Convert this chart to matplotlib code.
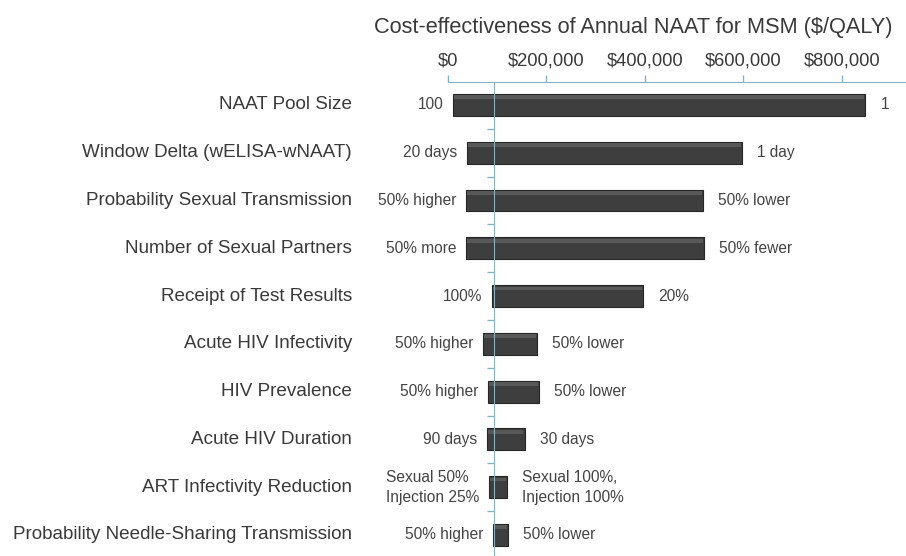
import matplotlib
matplotlib.use("Agg")
import matplotlib.pyplot as plt
import numpy as np

plt.rcParams["font.family"] = ["Liberation Sans", "DejaVu Sans"]

# tornado data ($/QALY), top row first
params = [
    "NAAT Pool Size",
    "Window Delta (wELISA-wNAAT)",
    "Probability Sexual Transmission",
    "Number of Sexual Partners",
    "Receipt of Test Results",
    "Acute HIV Infectivity",
    "HIV Prevalence",
    "Acute HIV Duration",
    "ART Infectivity Reduction",
    "Probability Needle-Sharing Transmission",
]
low_vals = [10000, 38500, 36500, 36500, 89000, 71000, 81000, 79000, 83000, 91000]
high_vals = [847000, 597000, 518000, 520000, 396000, 181000, 185000, 156000, 120000, 122000]
low_labels = ["100", "20 days", "50% higher", "50% more", "100%", "50% higher",
              "50% higher", "90 days", "Sexual 50%\nInjection 25%", "50% higher"]
high_labels = ["1", "1 day", "50% lower", "50% fewer", "20%", "50% lower",
               "50% lower", "30 days", "Sexual 100%,\nInjection 100%", "50% lower"]
base_case = 93500
xticks = [0, 200000, 400000, 600000, 800000]

axis_col = "#86b3c4"
bar_col = "#3e3e3e"
txt_col = "#3a3a3a"

fig = plt.figure(figsize=(9.06, 5.56), dpi=100)
ax = fig.add_axes([448 / 906, 0.0, 1 - 448 / 906, 1 - 82 / 556])

y = np.arange(len(params))
lo = np.array(low_vals)
hi = np.array(high_vals)
h = 0.46

# two halves of each bar, split at the base case
ax.barh(y, base_case - lo, left=lo, height=h, color=bar_col,
        edgecolor="#262626", linewidth=0.8, zorder=2)
ax.barh(y, hi - base_case, left=base_case, height=h, color=bar_col,
        edgecolor="#262626", linewidth=0.8, zorder=2)
# soft bevel highlight along the top of each bar
ax.barh(y - h / 2 + 0.07, hi - lo - 6000, left=lo + 3000, height=0.08,
        color="#585858", linewidth=0, zorder=3)

for i in range(len(params)):
    ax.annotate(low_labels[i], (lo[i], y[i]), xytext=(-7, 0),
                textcoords="offset points", ha="right", va="center",
                multialignment="left", linespacing=1.4,
                fontsize=11.2, color="#444444")
    ax.annotate(high_labels[i], (hi[i], y[i]), xytext=(11, 0),
                textcoords="offset points", ha="left", va="center",
                multialignment="left", linespacing=1.4,
                fontsize=11.2, color="#444444")
    ax.text(-96 / 458, y[i], params[i], transform=ax.get_yaxis_transform(),
            ha="right", va="center", fontsize=13.6, color=txt_col)

ax.set_xlim(0, 930000)
ax.set_ylim(len(params) - 1 + 0.44, -0.48)

ax.xaxis.tick_top()
ax.set_xticks(xticks)
ax.set_xticklabels(["${:,}".format(v) for v in xticks])
ax.tick_params(axis="x", colors=axis_col, labelcolor=txt_col, labelsize=13.2,
               length=5, width=1, pad=4)

ax.set_yticks(np.arange(len(params) - 1) + 0.5)
ax.set_yticklabels([])
ax.tick_params(axis="y", colors=axis_col, length=5, width=1)

ax.spines["left"].set_position(("data", base_case))
ax.spines["left"].set_color(axis_col)
ax.spines["top"].set_color(axis_col)
ax.spines["bottom"].set_visible(False)
ax.spines["right"].set_visible(False)
ax.spines["left"].set_zorder(4)

fig.text(893 / 906, 1 - 27 / 556, "Cost-effectiveness of Annual NAAT for MSM ($/QALY)",
         ha="right", va="center", fontsize=15.7, color=txt_col)

fig.savefig("out.png", dpi=100, facecolor="white")
